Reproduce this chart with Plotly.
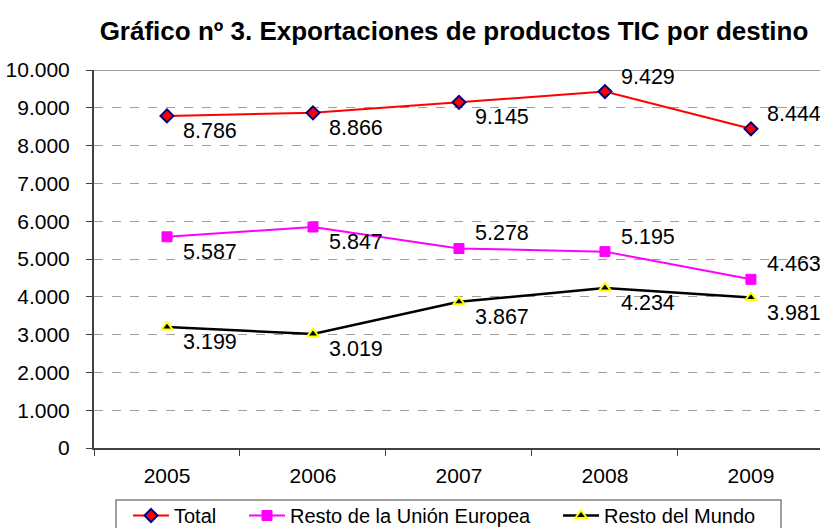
import plotly.graph_objects as go

years = ["2005", "2006", "2007", "2008", "2009"]
total = [8786, 8866, 9145, 9429, 8444]
resto_ue = [5587, 5847, 5278, 5195, 4463]
resto_mundo = [3199, 3019, 3867, 4234, 3981]

total_pos = ["below", "below", "below", "above", "above"]
ue_pos = ["below", "below", "above", "above", "above"]
mundo_pos = ["below", "below", "below", "below", "below"]

FONT = "Liberation Sans, Arial, sans-serif"

# plot-area geometry (pixels) used to place paper-referenced layout items
L, R, T, B = 94, 820, 70, 448
PW, PH = R - L, B - T


def px_x(px):
    return (px - L) / PW


def px_y(py):
    return (B - py) / PH


fig = go.Figure()

fig.add_trace(go.Scatter(
    x=years, y=total, name="Total", mode="lines+markers", legend="legend",
    line=dict(color="#FF0000", width=2),
    marker=dict(symbol="diamond", size=10, color="#FF0000",
                line=dict(color="#000080", width=2)),
))
fig.add_trace(go.Scatter(
    x=years, y=resto_ue, name="Resto de la Unión Europea", mode="lines+markers",
    legend="legend2",
    line=dict(color="#FF00FF", width=2),
    marker=dict(symbol="square", size=10, color="#FF00FF",
                line=dict(color="#FF00FF", width=1)),
))
fig.add_trace(go.Scatter(
    x=years, y=resto_mundo, name="Resto del Mundo", mode="lines+markers",
    legend="legend3",
    line=dict(color="#000000", width=2.5),
    marker=dict(symbol="triangle-up", size=10, color="#000000",
                line=dict(color="#FFFF00", width=2)),
))


def fmt(v):
    return f"{v:,}".replace(",", ".")


annotations = []
for series, pos in ((total, total_pos), (resto_ue, ue_pos), (resto_mundo, mundo_pos)):
    for i, (yv, p) in enumerate(zip(series, pos)):
        annotations.append(dict(
            x=i, y=yv, xref="x", yref="y", text=fmt(yv), showarrow=False,
            xanchor="left", yanchor="top" if p == "below" else "bottom",
            xshift=14, yshift=-1 if p == "below" else 1,
            font=dict(family=FONT, size=21.5, color="#000000"),
        ))

leg_common = dict(orientation="h", xanchor="left", yanchor="top",
                  y=px_y(496), bgcolor="rgba(0,0,0,0)", borderwidth=0,
                  font=dict(family=FONT, size=20, color="#000000"),
                  itemwidth=36)

fig.update_layout(
    width=820, height=528,
    margin=dict(l=L, r=0, t=T, b=528 - B, autoexpand=False),
    paper_bgcolor="white", plot_bgcolor="white",
    separators=",.",
    font=dict(family=FONT, size=20, color="#000000"),
    title=dict(text="<b>Gráfico nº 3. Exportaciones de productos TIC por destino</b>",
               x=454 / 820, xanchor="center", y=1 - 31 / 528, yanchor="middle",
               font=dict(family=FONT, size=26, color="#000000")),
    showlegend=True,
    legend=dict(leg_common, x=px_x(128)),
    legend2=dict(leg_common, x=px_x(244)),
    legend3=dict(leg_common, x=px_x(558)),
    annotations=annotations,
    shapes=[
        dict(type="line", xref="paper", yref="y", x0=0, x1=1, y0=10000, y1=10000,
             line=dict(color="#808080", width=1.5)),
        dict(type="rect", xref="paper", yref="paper",
             x0=px_x(116), x1=px_x(781), y0=px_y(532), y1=px_y(500),
             line=dict(color="#808080", width=1.5), fillcolor="rgba(0,0,0,0)"),
    ],
)

fig.update_xaxes(
    type="category", range=[-0.5, 4.473], tickson="boundaries",
    showline=True, linecolor="#404040", linewidth=2,
    ticks="outside", ticklen=6, tickcolor="#404040", tickwidth=1,
    ticklabelstandoff=8,
    showgrid=False, tickfont=dict(family=FONT, size=21, color="#000000"),
)
fig.update_yaxes(
    range=[0, 10000], dtick=1000, tickformat=",d",
    showline=True, linecolor="#404040", linewidth=2,
    ticks="outside", ticklen=6, tickcolor="#404040", tickwidth=1,
    ticklabelstandoff=12,
    showgrid=True, gridcolor="#A0A0A0", gridwidth=1, griddash="dash",
    zeroline=False, tickfont=dict(family=FONT, size=21, color="#000000"),
)

fig.write_html("out.html", config={"displayModeBar": False},
               post_script="document.body.style.margin='0';")
